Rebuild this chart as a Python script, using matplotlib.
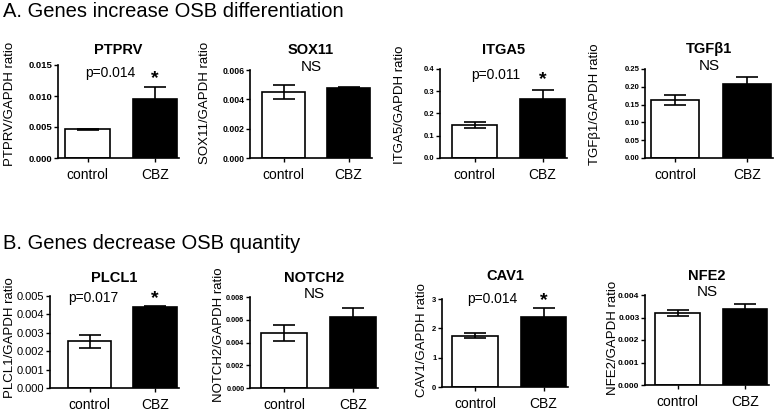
import matplotlib
matplotlib.use('Agg')
import matplotlib.pyplot as plt
import numpy as np

plt.rcParams['font.family'] = ['Liberation Sans', 'DejaVu Sans']

W, H = 782, 411

groups = ['control', 'CBZ']

# gene names, row by row
genes = ['PTPRV', 'SOX11', 'ITGA5', 'TGF\u03b21',
         'PLCL1', 'NOTCH2', 'CAV1', 'NFE2']
ylabels = ['PTPRV/GAPDH ratio', 'SOX11/GAPDH ratio', 'ITGA5/GAPDH ratio',
           'TGF\u03b21/GAPDH ratio', 'PLCL1/GAPDH ratio', 'NOTCH2/GAPDH ratio',
           'CAV1/GAPDH ratio', 'NFE2/GAPDH ratio']

# mean values (control, CBZ)
means = [[0.0046, 0.0095],
         [0.0045, 0.0048],
         [0.148, 0.265],
         [0.164, 0.208],
         [0.00253, 0.00442],
         [0.00485, 0.0062],
         [1.75, 2.38],
         [0.0032, 0.0034]]
# error (SEM)
errs = [[0.0001, 0.0019],
        [0.0005, 0.00005],
        [0.014, 0.042],
        [0.014, 0.020],
        [0.00035, 0.00003],
        [0.0007, 0.0008],
        [0.09, 0.33],
        [0.00013, 0.0002]]

stats = ['p=0.014', 'NS', 'p=0.011', 'NS', 'p=0.017', 'NS', 'p=0.014', 'NS']

yticks = [[0.000, 0.005, 0.010, 0.015],
          [0.000, 0.002, 0.004, 0.006],
          [0.0, 0.1, 0.2, 0.3, 0.4],
          [0.00, 0.05, 0.10, 0.15, 0.20, 0.25],
          [0.000, 0.001, 0.002, 0.003, 0.004, 0.005],
          [0.000, 0.002, 0.004, 0.006, 0.008],
          [0, 1, 2, 3],
          [0.000, 0.001, 0.002, 0.003, 0.004]]
yfmt = ['%.3f', '%.3f', '%.1f', '%.2f', '%.3f', '%.3f', '%d', '%.3f']
tick_size = [6.8, 6.3, 5.5, 5.5, 8, 5.3, 5.5, 6]

# layout in pixels: spine x, control centre, CBZ centre, top, bottom
layout = [(58, 87.5, 155, 65, 158),
          (250, 283.5, 348.5, 70, 158),
          (440, 474.5, 542.5, 69, 158),
          (645, 675, 747, 69, 158),
          (50, 89.5, 155, 296, 388),
          (250, 284, 353, 297, 388),
          (442, 475, 543.5, 299, 387),
          (645, 677.5, 745, 295, 385)]
# ylabel centre in pixels
ylab_pos = [(10, 104), (205, 103), (400, 105), (595, 104),
            (10, 338), (219, 335), (422, 340), (613, 338)]
# p text: x fraction, px above top of axes (baseline)
ptext_pos = [(0.43, -12), None, (0.44, -10), None,
             (0.34, -6), None, (0.40, -4), None]
# asterisk centre, px above top of axes
star_pos = [-8, None, -5, None, 3, None, 4, None]
title_above = [11, 16, 15, 16, 14, 15, 19, 15]

fig = plt.figure(figsize=(W / 100, H / 100), dpi=100)

fig.text(3 / W, 1 - 17 / H, 'A. Genes increase OSB differentiation',
         fontsize=14.5, va='baseline', ha='left')
fig.text(3 / W, 1 - 249 / H, 'B. Genes decrease OSB quantity',
         fontsize=14.5, va='baseline', ha='left')

bw = 0.66
for i in range(8):
    left, c0, c1, top, bot = layout[i]
    s = c1 - c0
    right = c1 + 0.36 * s
    ax = fig.add_axes([left / W, 1 - bot / H, (right - left) / W, (bot - top) / H])
    x = np.arange(2)
    ax.bar(x, means[i], width=bw, color=['white', 'black'],
           edgecolor='black', linewidth=1.2, zorder=2)
    ax.errorbar(x, means[i], yerr=errs[i], fmt='none', ecolor='black',
                elinewidth=1.2, capsize=8, capthick=1.2, zorder=3)
    ax.set_xlim((left - c0) / s, 1 + (right - c1) / s)
    ax.set_ylim(yticks[i][0], yticks[i][-1])
    ax.set_yticks(yticks[i])
    ax.set_yticklabels([yfmt[i] % v for v in yticks[i]])
    ax.set_xticks(x)
    ax.set_xticklabels(groups, fontsize=10)
    ax.spines['top'].set_visible(False)
    ax.spines['right'].set_visible(False)
    ax.spines['left'].set_linewidth(1.2)
    ax.spines['bottom'].set_linewidth(1.2)
    ax.tick_params(axis='x', length=3, width=1, pad=4)
    ax.tick_params(axis='y', length=3, width=1, pad=1, labelsize=tick_size[i])
    if i != 4:
        # PLCL1 panel uses plain tick labels, the rest are bold
        for tl in ax.get_yticklabels():
            tl.set_fontweight('bold')
    # y label
    lx, ly = ylab_pos[i]
    ax.set_ylabel(ylabels[i], fontsize=9.5)
    ax.yaxis.set_label_coords((lx - left) / (right - left), (bot - ly) / (bot - top))
    ax.yaxis.label.set_va('center')
    # gene title
    ax.annotate(genes[i], xy=(0.5, 1), xycoords='axes fraction',
                xytext=(0, title_above[i]), textcoords='offset pixels',
                ha='center', va='baseline', fontsize=10.5, fontweight='bold')
    if stats[i] == 'NS':
        ax.annotate('NS', xy=(0.5, 1), xycoords='axes fraction',
                    xytext=(0, -1), textcoords='offset pixels',
                    ha='center', va='baseline', fontsize=11)
    else:
        px, dy = ptext_pos[i]
        ax.annotate(stats[i], xy=(px, 1), xycoords='axes fraction',
                    xytext=(0, dy), textcoords='offset pixels',
                    ha='center', va='baseline', fontsize=10)
        ax.annotate('*', xy=(1, 1), xycoords=('data', 'axes fraction'),
                    xytext=(0, star_pos[i] - 10), textcoords='offset pixels',
                    ha='center', va='baseline', fontsize=14, fontweight='bold')

fig.savefig('out.png', dpi=100, facecolor='white')
